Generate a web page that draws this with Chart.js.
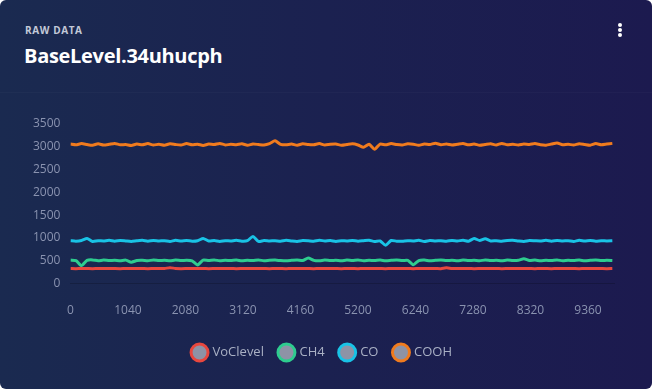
<!DOCTYPE html>
<html>
<head>
<meta charset="utf-8">
<script src="https://cdn.jsdelivr.net/npm/chart.js@4.4.1/dist/chart.umd.min.js"></script>
<style>
  html, body { margin: 0; padding: 0; background: #ffffff; }
  #card {
    position: absolute; left: 0; top: 0; width: 652px; height: 389px;
    border-radius: 6px;
    background: linear-gradient(90deg, #1a2a50 0%, #1b2150 50%, #1c1a4f 100%);
    overflow: hidden;
    font-family: "Open Sans", "Noto Sans", sans-serif;
  }
  #kicker { position: absolute; left: 25px; top: 23px; font-size: 10px; font-weight: 700; letter-spacing: 0.6px; color: #c3c9d8; }
  #title { position: absolute; left: 24px; top: 42px; font-size: 20px; font-weight: 700; color: #ffffff; letter-spacing: -0.3px; }
  #sep { position: absolute; left: 0; right: 0; top: 92px; height: 1px; background: rgba(255,255,255,0.025); }
  #dots { position: absolute; left: 618px; top: 23px; width: 4px; }
  #dots span { display: block; width: 4px; height: 4px; border-radius: 2px; background: #ffffff; margin-bottom: 1px; }
  #wrap { position: absolute; left: 0; top: 108px; width: 652px; height: 261px; }
</style>
</head>
<body>
<div id="card">
  <div id="kicker">RAW DATA</div>
  <div id="title">BaseLevel.34uhucph</div>
  <div id="sep"></div>
  <div id="dots"><span></span><span></span><span></span></div>
  <div id="wrap"><canvas id="c"></canvas></div>
</div>
<script>
const xValues = [0,100,200,300,400,500,600,700,800,900,1000,1100,1200,1300,1400,1500,1600,1700,1800,1900,2000,2100,2200,2300,2400,2500,2600,2700,2800,2900,3000,3100,3200,3300,3400,3500,3600,3700,3800,3900,4000,4100,4200,4300,4400,4500,4600,4700,4800,4900,5000,5100,5200,5300,5400,5500,5600,5700,5800,5900,6000,6100,6200,6300,6400,6500,6600,6700,6800,6900,7000,7100,7200,7300,7400,7500,7600,7700,7800,7900,8000,8100,8200,8300,8400,8500,8600,8700,8800,8900,9000,9100,9200,9300,9400,9500,9600,9700,9800];
const xTickLabels = [0,1040,2080,3120,4160,5200,6240,7280,8320,9360];
const yTickLabels = [0,500,1000,1500,2000,2500,3000,3500];
const seriesNames = ["VoClevel","CH4","CO","COOH"];
const vocLevel = [330,328,332,330,327,331,329,333,330,328,331,329,332,330,327,331,333,329,350,331,328,330,332,329,331,327,330,333,329,331,328,330,332,329,331,330,327,332,330,328,331,329,333,330,327,331,329,332,330,328,331,330,327,332,329,331,330,328,333,330,329,331,327,332,330,329,331,328,345,330,332,329,331,327,330,333,329,331,328,330,332,329,331,330,327,332,330,328,331,329,333,330,327,331,329,332,330,328,331];
const ch4 = [515,505,395,510,520,500,515,505,510,500,515,470,505,510,500,520,505,510,500,515,505,510,500,410,515,505,520,500,510,505,515,500,510,505,520,500,510,515,505,500,510,520,505,560,510,500,515,505,510,500,515,505,520,500,510,505,515,500,510,520,505,510,415,505,515,500,510,520,505,510,500,515,505,510,500,520,505,510,500,515,505,510,545,505,515,500,510,505,520,500,510,505,515,500,510,520,505,510,505];
const co = [940,930,945,990,925,940,935,950,930,945,935,925,940,950,930,945,935,940,925,950,935,945,930,940,990,935,945,925,940,935,950,930,940,1035,925,945,935,940,930,950,935,925,945,940,930,950,935,945,925,940,935,945,930,940,950,925,935,840,945,930,930,940,935,950,925,945,935,940,930,945,935,950,930,990,945,985,935,940,930,945,950,935,925,945,940,935,950,930,945,935,940,925,950,935,945,930,940,935,940];
const cooh = [3060,3045,3070,3050,3035,3065,3040,3055,3075,3045,3050,3030,3060,3045,3070,3040,3055,3035,3065,3050,3040,3070,3045,3055,3030,3060,3050,3075,3040,3055,3045,3065,3035,3060,3050,3040,3070,3130,3055,3045,3060,3035,3065,3050,3045,3070,3040,3055,3060,3035,3050,3065,3040,2990,3055,2945,3060,3045,3070,3050,3040,3065,3055,3035,3060,3050,3080,3045,3060,3040,3055,3070,3045,3060,3035,3050,3065,3040,3075,3045,3055,3040,3060,3050,3070,3045,3035,3060,3085,3045,3055,3040,3065,3050,3035,3070,3045,3060,3075];
const seriesColors = ["#e8473e","#2ecc8f","#19c3e6","#f07b1e"];
const seriesData = [vocLevel, ch4, co, cooh];

const datasets = seriesNames.map((name, i) => ({
  label: name,
  data: xValues.map((x, j) => ({ x: x, y: seriesData[i][j] })),
  borderColor: seriesColors[i],
  backgroundColor: "#8e93a6",
  borderWidth: 3,
  pointRadius: 0,
  tension: 0.2,
  fill: false
}));
datasets.reverse();

const fontFam = "'Open Sans', 'Noto Sans', sans-serif";
new Chart(document.getElementById("c"), {
  type: "line",
  data: { datasets: datasets },
  options: {
    responsive: true,
    maintainAspectRatio: false,
    animation: false,
    layout: { padding: { left: 31, right: 38, top: 16, bottom: 0 } },
    plugins: {
      tooltip: { enabled: false },
      legend: {
        position: "bottom",
        reverse: true,
        labels: {
          usePointStyle: true,
          pointStyle: "circle",
          boxHeight: 12,
          color: "#a9b0c4",
          padding: 16,
          font: { family: fontFam, size: 13 },
          generateLabels: (chart) => {
            const items = Chart.defaults.plugins.legend.labels.generateLabels(chart);
            items.forEach(it => { it.lineWidth = 3; });
            return items;
          }
        }
      }
    },
    scales: {
      x: {
        type: "linear",
        min: 0,
        max: 9830,
        afterBuildTicks: (axis) => { axis.ticks = xTickLabels.map(v => ({ value: v })); },
        ticks: { color: "#8a93b0", padding: 12, maxRotation: 0, autoSkip: false, font: { family: fontFam, size: 12 }, callback: (v) => String(v) },
        grid: { display: false },
        border: { display: true, color: "rgba(0,0,0,0.18)", width: 1 }
      },
      y: {
        min: 0,
        max: 3500,
        afterBuildTicks: (axis) => { axis.ticks = yTickLabels.map(v => ({ value: v })); },
        ticks: { color: "#8a93b0", padding: 2, font: { family: fontFam, size: 12 }, callback: (v) => String(v) },
        grid: { display: false },
        border: { display: false }
      }
    }
  }
});
</script>
</body>
</html>
